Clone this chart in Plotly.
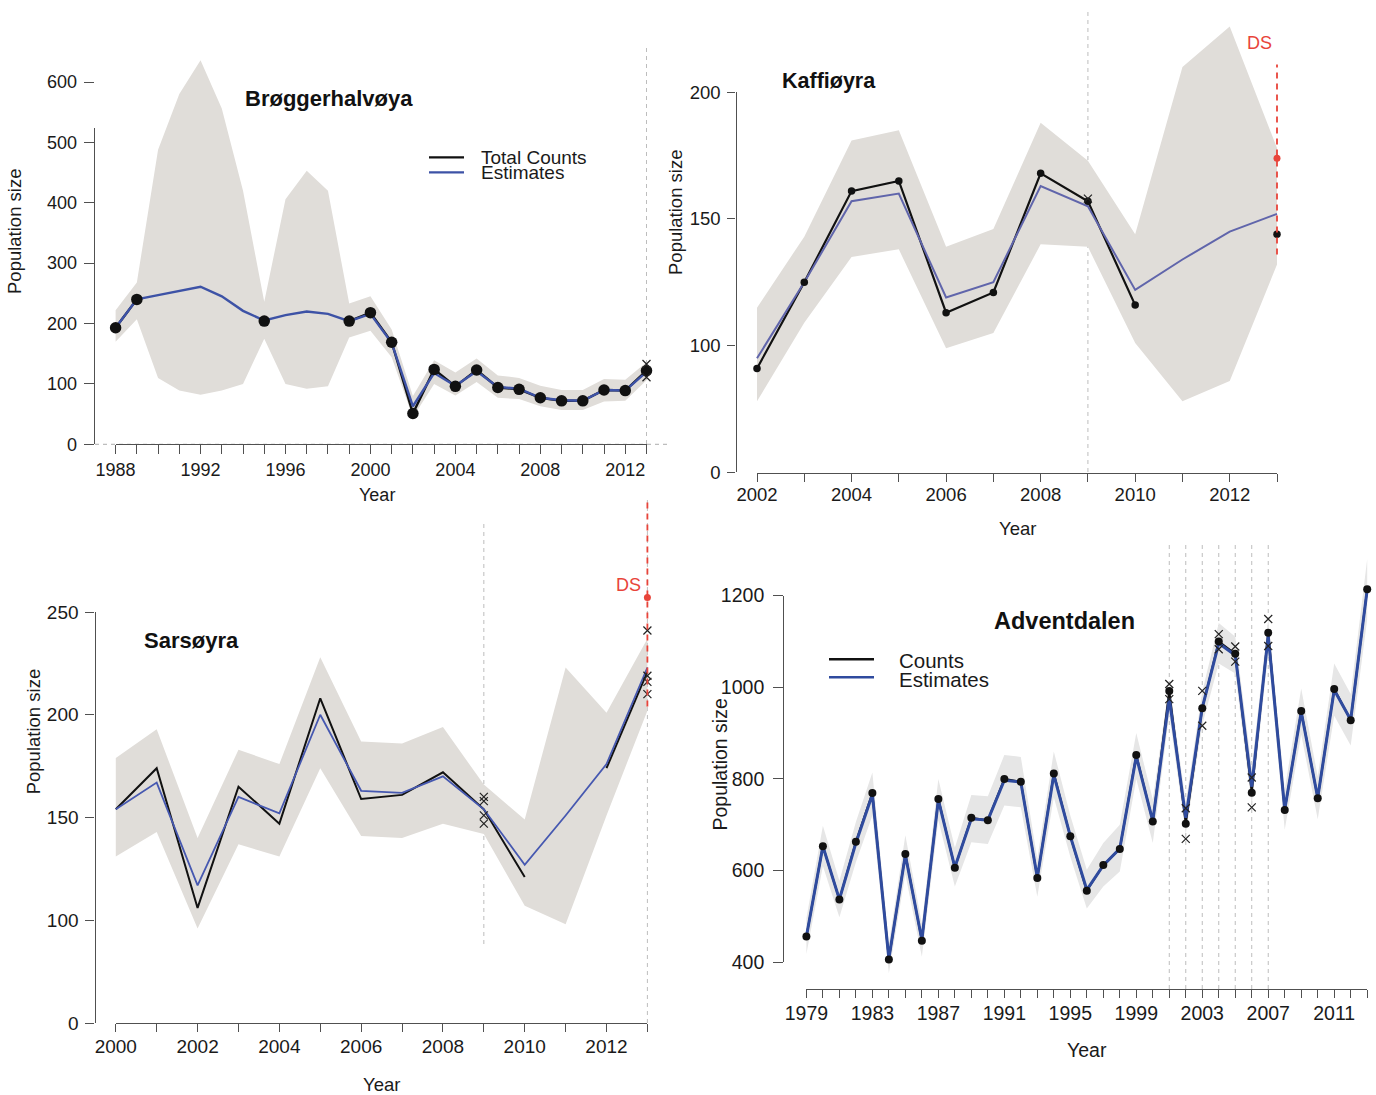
import plotly.graph_objects as go

W, H = 1376, 1095
FONT = "Liberation Sans, Arial, sans-serif"

# ---------------- data ----------------
# Brøggerhalvøya
years_brogger = list(range(1988, 2014))
counts_brogger = [193, 240, None, None, None, None, None, 204, None, None, None, 204, 218,
                  169, 51, 124, 96, 123, 94, 91, 77, 72, 72, 90, 89, 122]
est_brogger = [193, 240, 247, 254, 261, 245, 221, 205, 214, 220, 216, 204, 216,
               168, 63, 118, 97, 121, 95, 92, 77, 73, 72, 90, 89, 120]
upper_brogger = [222, 268, 488, 580, 636, 556, 420, 236, 406, 453, 420, 233, 245,
                 190, 80, 139, 119, 142, 114, 110, 97, 90, 90, 108, 107, 136]
lower_brogger = [170, 207, 110, 89, 82, 89, 100, 175, 100, 92, 96, 177, 188,
                 144, 45, 100, 81, 103, 77, 75, 63, 57, 57, 71, 72, 106]
rep_years_brogger = [2013, 2013]
rep_counts_brogger = [133, 111]

# Kaffiøyra
years_kaff = list(range(2002, 2014))
counts_kaff = [91, 125, 161, 165, 113, 121, 168, 157, 116, None, None, 144]
est_kaff = [95, 125, 157, 160, 119, 125, 163, 155, 122, 134, 145, 152]
upper_kaff = [115, 143, 181, 185, 139, 146, 188, 173, 144, 210, 226, 178]
lower_kaff = [78, 109, 135, 138, 99, 105, 140, 139, 101, 78, 86, 132]
rep_years_kaff = [2009]
rep_counts_kaff = [158]
ds_year_kaff, ds_est_kaff, ds_lo_kaff, ds_hi_kaff = 2013, 174, 136, 211

# Sarsøyra
years_sars = list(range(2000, 2014))
counts_sars = [154, 174, 106, 165, 147, 208, 159, 161, 172, 154, 121, None, 174, 221]
est_sars = [154, 167, 117, 160, 152, 200, 163, 162, 170, 154, 127, 151, 176, 223]
upper_sars = [179, 193, 140, 183, 176, 228, 187, 186, 194, 166, 149, 223, 201, 237]
lower_sars = [131, 143, 96, 137, 131, 174, 141, 140, 147, 142, 107, 98, 151, 202]
rep_years_sars = [2009, 2009, 2009, 2009, 2013, 2013, 2013, 2013]
rep_counts_sars = [160, 158, 151, 147, 241, 219, 216, 210]
ds_year_sars, ds_est_sars, ds_lo_sars, ds_hi_sars = 2013, 257, 204, 305

# Adventdalen
years_adv = list(range(1979, 2014))
counts_adv = [456, 653, 537, 663, 769, 406, 636, 447, 756, 606, 715, 710, 800, 794, 584,
              812, 675, 556, 612, 647, 852, 707, 992, 702, 954, 1100, 1073, 770, 1119,
              732, 948, 758, 996, 928, 1214]
est_adv = [456, 653, 537, 660, 766, 408, 634, 449, 754, 607, 713, 710, 797, 793, 585,
           809, 675, 558, 611, 648, 849, 708, 976, 715, 955, 1096, 1070, 783, 1112,
           733, 946, 759, 994, 929, 1213]
upper_adv = [496, 698, 578, 706, 814, 440, 677, 484, 800, 650, 765, 762, 852, 848, 626,
             860, 720, 602, 660, 700, 900, 755, 1010, 750, 990, 1140, 1110, 825, 1150,
             777, 997, 805, 1052, 985, 1280]
lower_adv = [418, 610, 498, 618, 720, 376, 592, 412, 710, 565, 662, 658, 742, 738, 543,
             760, 630, 517, 565, 598, 800, 660, 940, 680, 918, 1052, 1030, 742, 1075,
             689, 897, 712, 938, 873, 1148]
rep_years_adv = [2001, 2001, 2002, 2002, 2003, 2003, 2004, 2004, 2005, 2005, 2006, 2006, 2007, 2007]
rep_counts_adv = [1007, 974, 736, 669, 992, 916, 1116, 1083, 1089, 1056, 803, 738, 1149, 1090]

# tick definitions
yticks_brogger = [0, 100, 200, 300, 400, 500]
yticks_kaff = [50, 100, 150, 200]
yticktext_kaff = ["0", "100", "150", "200"]
yticks_sars = [50, 100, 150, 200, 250]
yticktext_sars = ["0", "100", "150", "200", "250"]
yticks_adv = [400, 600, 800, 1000, 1200]

# ---------------- styling ----------------
BAND = "#e0ddd9"
BAND_ADV = "#e6e6e6"
BLACK = "#111111"
RED = "#e8443a"
AXIS = "#505050"
GRID_DASH = "#bdbdbd"


class Panel:
    """Linear value<->pixel mapping for one panel of the figure."""

    def __init__(self, xmap, ymap, box):
        self.xv0, self.xp0, self.xv1, self.xp1 = xmap
        self.yv0, self.yp0, self.yv1, self.yp1 = ymap
        self.box = box  # (left, top, right, bottom) in pixels

    def px(self, v):
        return self.xp0 + (v - self.xv0) * (self.xp1 - self.xp0) / (self.xv1 - self.xv0)

    def py(self, v):
        return self.yp0 + (v - self.yv0) * (self.yp1 - self.yp0) / (self.yv1 - self.yv0)

    def xval(self, p):
        return self.xv0 + (p - self.xp0) * (self.xv1 - self.xv0) / (self.xp1 - self.xp0)

    def yval(self, p):
        return self.yv0 + (p - self.yp0) * (self.yv1 - self.yv0) / (self.yp1 - self.yp0)


def fx(p):
    return p / W


def fy(p):
    return 1 - p / H


panels = {
    1: Panel((1988, 115.6, 2013, 646.5), (0, 444.3, 600, 82.0), (20, 0, 690, 490)),
    2: Panel((2002, 757.0, 2013, 1277.0), (50, 472.3, 200, 92.3), (690, 0, 1376, 500)),
    3: Panel((2000, 115.8, 2013, 647.4), (50, 1023.0, 250, 612.0), (20, 495, 690, 1095)),
    4: Panel((1979, 806.4, 2013, 1367.2), (400, 962.2, 1200, 595.6), (690, 500, 1376, 1095)),
}

fig = go.Figure()
layout = dict()

# data axes (hidden), one pair per panel
for n, p in panels.items():
    l, t, r, b = p.box
    sx = "" if n == 1 else str(n)
    layout["xaxis" + sx] = dict(domain=[fx(l), fx(r)], range=[p.xval(l), p.xval(r)],
                                visible=False, anchor="y" + sx, fixedrange=True,
                                automargin=False)
    layout["yaxis" + sx] = dict(domain=[fy(b), fy(t)], range=[p.yval(b), p.yval(t)],
                                visible=False, anchor="x" + sx, fixedrange=True,
                                automargin=False)


def deco_axes(n, k, xticks, xtext, xpos_py, yticks, ytext, yline_top, ypos_px,
              fsize, xlen, ylen, xstand, ystand):
    """Visible R-style axes whose lines span only the tick range."""
    p = panels[n]
    xk = "xaxis" + str(k)
    yk = "yaxis" + str(k)
    layout[xk] = dict(
        domain=[fx(p.px(xticks[0])), fx(p.px(xticks[-1]))], range=[xticks[0], xticks[-1]],
        anchor="free", position=fy(xpos_py), showline=True, linecolor=AXIS, linewidth=1.3,
        ticks="outside", ticklen=xlen, tickwidth=1.3, tickcolor=AXIS,
        tickmode="array", tickvals=xticks, ticktext=xtext, showgrid=False, zeroline=False,
        tickfont=dict(family=FONT, size=fsize, color="#1a1a1a"), ticklabelstandoff=xstand,
        fixedrange=True, automargin=False)
    ytop = yline_top if yline_top is not None else yticks[-1]
    layout[yk] = dict(
        domain=[fy(p.py(yticks[0])), fy(p.py(ytop))], range=[yticks[0], ytop],
        anchor="free", position=fx(ypos_px), showline=True, linecolor=AXIS, linewidth=1.3,
        ticks="outside", ticklen=ylen, tickwidth=1.3, tickcolor=AXIS,
        tickmode="array", tickvals=yticks, ticktext=ytext, showgrid=False, zeroline=False,
        tickfont=dict(family=FONT, size=fsize, color="#1a1a1a"), ticklabelstandoff=ystand,
        fixedrange=True, automargin=False)
    fig.add_trace(go.Scatter(x=[], y=[], xaxis="x" + str(k), yaxis="y" + str(k),
                             showlegend=False, hoverinfo="skip"))


def year_labels(years, step):
    return [str(y) if (y - years[0]) % step == 0 else "" for y in years]


deco_axes(1, 5, years_brogger, year_labels(years_brogger, 4), 444.3,
          yticks_brogger, [str(v) for v in yticks_brogger], 524, 93.7, 18, 9, 10, 0, 3)
deco_axes(2, 6, years_kaff, year_labels(years_kaff, 2), 472.5,
          yticks_kaff, yticktext_kaff, None, 735.5, 18.5, 8, 8, -3, 3)
deco_axes(3, 7, years_sars, year_labels(years_sars, 2), 1023,
          yticks_sars, yticktext_sars, None, 94.5, 19, 8, 9, -2, 3)
deco_axes(4, 8, years_adv, year_labels(years_adv, 4), 989,
          yticks_adv, [str(v) for v in yticks_adv], None, 783.3, 19.5, 8, 10, -2, 5)

# the lone 600 tick above the Brøggerhalvøya axis
p1 = panels[1]
layout["yaxis9"] = dict(domain=[fy(p1.py(590)), fy(p1.py(610))], range=[590, 610],
                        anchor="free", position=fx(93.7), showline=False,
                        ticks="outside", ticklen=10, tickwidth=1.3, tickcolor=AXIS,
                        tickmode="array", tickvals=[600], ticktext=["600"],
                        showgrid=False, zeroline=False, ticklabelstandoff=3,
                        tickfont=dict(family=FONT, size=18, color="#1a1a1a"),
                        fixedrange=True, automargin=False)
fig.add_trace(go.Scatter(x=[], y=[], xaxis="x5", yaxis="y9", showlegend=False, hoverinfo="skip"))


def add_series(n, years, counts, est, upper, lower, blue, band, lw_est, lw_cnt,
               dot_size, rep_x=None, rep_y=None):
    sx = "" if n == 1 else str(n)
    ax = dict(xaxis="x" + sx, yaxis="y" + sx, showlegend=False, hoverinfo="skip")
    fig.add_trace(go.Scatter(x=years + years[::-1], y=upper + lower[::-1], fill="toself",
                             fillcolor=band, line=dict(width=0), mode="lines", **ax))
    fig.add_trace(go.Scatter(x=years, y=counts, mode="lines",
                             line=dict(color=BLACK, width=lw_cnt), **ax))
    fig.add_trace(go.Scatter(x=years, y=est, mode="lines",
                             line=dict(color=blue, width=lw_est), **ax))
    if dot_size:
        fig.add_trace(go.Scatter(x=years, y=counts, mode="markers", cliponaxis=False,
                                 marker=dict(color=BLACK, size=dot_size), **ax))
    if rep_x:
        fig.add_trace(go.Scatter(x=rep_x, y=rep_y, mode="markers", cliponaxis=False,
                                 marker=dict(symbol="x-thin", size=8,
                                             line=dict(color="#222222", width=1.2)), **ax))


def add_ds(n, year, est, lo, hi):
    sx = str(n)
    ax = dict(xaxis="x" + sx, yaxis="y" + sx, showlegend=False, hoverinfo="skip")
    fig.add_trace(go.Scatter(x=[year, year], y=[lo, hi], mode="lines",
                             line=dict(color=RED, width=1.8, dash="6px,5px"), **ax))
    fig.add_trace(go.Scatter(x=[year], y=[est], mode="markers", cliponaxis=False,
                             marker=dict(color=RED, size=7), **ax))


add_series(1, years_brogger, counts_brogger, est_brogger, upper_brogger, lower_brogger,
           "#3d52a6", BAND, 2.4, 2.4, 11.5, rep_years_brogger, rep_counts_brogger)
add_series(2, years_kaff, counts_kaff, est_kaff, upper_kaff, lower_kaff,
           "#6065ab", BAND, 2.0, 2.2, 7.5, rep_years_kaff, rep_counts_kaff)
add_series(3, years_sars, counts_sars, est_sars, upper_sars, lower_sars,
           "#4658b0", BAND, 1.8, 2.0, 0, rep_years_sars, rep_counts_sars)
add_series(4, years_adv, counts_adv, est_adv, upper_adv, lower_adv,
           "#2f4b9e", BAND_ADV, 3.0, 2.0, 8, rep_years_adv, rep_counts_adv)
add_ds(2, ds_year_kaff, ds_est_kaff, ds_lo_kaff, ds_hi_kaff)
add_ds(3, ds_year_sars, ds_est_sars, ds_lo_sars, ds_hi_sars)

# ---------------- reference lines ----------------
shapes = []


def vline(n, year, top_py, bottom_py):
    x = fx(panels[n].px(year))
    shapes.append(dict(type="line", xref="paper", yref="paper", x0=x, x1=x,
                       y0=fy(bottom_py), y1=fy(top_py),
                       line=dict(color=GRID_DASH, width=1, dash="4px,4px"), layer="below"))


vline(1, 2013, 48, 444)
vline(2, 2009, 8, 472)
vline(3, 2009, 522, 944)
vline(3, 2013, 500, 1023)
for yr in sorted(set(rep_years_adv)):
    vline(4, yr, 545, 989)

# dashed zero line across the Brøggerhalvøya panel
shapes.append(dict(type="line", xref="paper", yref="paper", x0=fx(95), x1=fx(667),
                   y0=fy(p1.py(0)), y1=fy(p1.py(0)),
                   line=dict(color=GRID_DASH, width=1.2, dash="4px,4px"), layer="below"))


# legend keys
def legend_key(x0, x1, ypx, color, width):
    shapes.append(dict(type="line", xref="paper", yref="paper", x0=fx(x0), x1=fx(x1),
                       y0=fy(ypx), y1=fy(ypx), line=dict(color=color, width=width)))


legend_key(429, 464, 157.3, BLACK, 2.2)
legend_key(429, 464, 172.3, "#3d52a6", 2.2)
legend_key(829, 874, 659.3, BLACK, 2.4)
legend_key(829, 874, 677.3, "#2f4b9e", 2.4)

# ---------------- text ----------------
ann = []


def text(s, xp, ypx, size, color="#1a1a1a", bold=False, angle=0, xanchor="center"):
    ann.append(dict(text=f"<b>{s}</b>" if bold else s, x=fx(xp), y=fy(ypx),
                    xref="paper", yref="paper", showarrow=False, textangle=angle,
                    xanchor=xanchor, yanchor="middle",
                    font=dict(family=FONT, size=size, color=color)))


text("Brøggerhalvøya", 328.7, 98.3, 22, BLACK, bold=True)
text("Kaffiøyra", 829, 81, 21.5, BLACK, bold=True)
text("Sarsøyra", 191.2, 640.4, 22, BLACK, bold=True)
text("Adventdalen", 1064.9, 621.4, 23.5, BLACK, bold=True)

text("Year", 376.6, 495, 18)
text("Year", 1017.3, 528, 18.5)
text("Year", 381.6, 1084.4, 18.5)
text("Year", 1086.8, 1049.7, 19.5)

text("Population size", 15, 232, 18.5, angle=-90)
text("Population size", 676, 213, 18.5, angle=-90)
text("Population size", 33.8, 731.5, 18.5, angle=-90)
text("Population size", 719.7, 764.8, 19.5, angle=-90)

text("Total Counts", 479, 157, 19, xanchor="left")
text("Estimates", 479, 172.7, 19, xanchor="left")
text("Counts", 897, 660.7, 20.5, xanchor="left")
text("Estimates", 897, 679, 20.5, xanchor="left")

text("DS", 1259, 43, 18, RED)
text("DS", 628, 585.4, 18, RED)

fig.update_layout(
    width=W, height=H, margin=dict(l=0, r=0, t=0, b=0, pad=0, autoexpand=False),
    paper_bgcolor="white", plot_bgcolor="rgba(0,0,0,0)",
    showlegend=False, shapes=shapes, annotations=ann,
    font=dict(family=FONT), **layout)

fig.write_html("out.html", config={"displayModeBar": False})
